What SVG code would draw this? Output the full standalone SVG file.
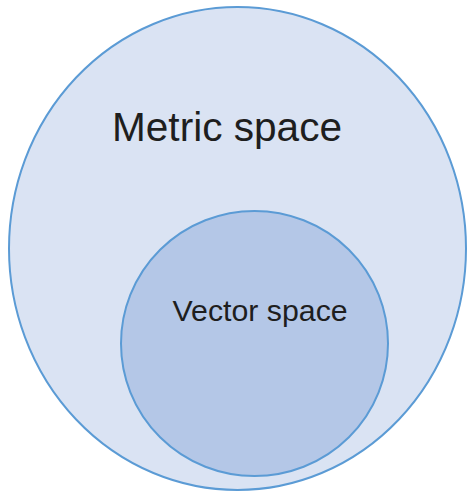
<svg xmlns="http://www.w3.org/2000/svg" width="474" height="498" viewBox="0 0 474 498">
<style>
.shape{stroke:#5b9bd5;stroke-width:2}
.lbl{font-family:"Liberation Sans",Arial,sans-serif;fill:#1e1e1e}
</style>
<rect width="474" height="498" fill="#ffffff"/>
<g id="metric-space">
<ellipse class="shape" cx="237.5" cy="248.5" rx="228.5" ry="241.5" fill="#dae3f3"/>
<text class="lbl" x="112" y="141" font-size="40.6">Metric space</text>
</g>
<g id="vector-space">
<ellipse class="shape" cx="254.5" cy="343.5" rx="133.5" ry="132.5" fill="#b4c7e7"/>
<text class="lbl" x="172.5" y="321" font-size="30.3">Vector space</text>
</g>
<g id="connectors"/>
</svg>
